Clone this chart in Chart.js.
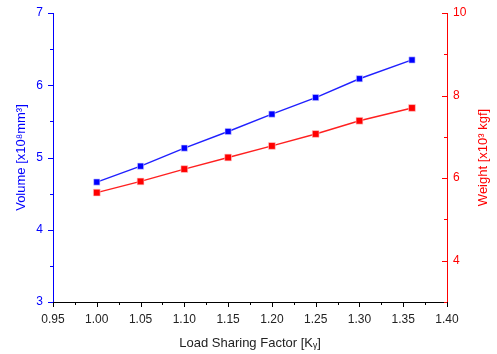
<!DOCTYPE html>
<html>
<head>
<meta charset="utf-8">
<script src="https://cdn.jsdelivr.net/npm/chart.js@4"></script>
<style>
  html, body { margin: 0; padding: 0; background: #fff; }
  #wrap { width: 497px; height: 354px; }
</style>
</head>
<body>
<div id="wrap"><canvas id="c" width="497" height="354"></canvas></div>
<script>
// values
const loadFactor = [1.00, 1.05, 1.10, 1.15, 1.20, 1.25, 1.30, 1.36]
const volume = [4.66, 4.88, 5.13, 5.36, 5.60, 5.83, 6.09, 6.35]
const weight = [5.65, 5.92, 6.22, 6.50, 6.78, 7.07, 7.39, 7.70]

const BLUE = "#0000ff"
const RED = "#ff0000"
const FONT = "'Liberation Sans', Arial, sans-serif"

// major + minor ticks drawn by hand, plus the right axis title (reads bottom to top)
const tickMarks = {
  id: "tickMarks",
  afterDraw(chart) {
    const ctx = chart.ctx
    const area = chart.chartArea
    const draw = (scale, color, x0, y0, dx, dy, vertical) => {
      const vals = scale.ticks.map(t => t.value)
      ctx.save()
      ctx.strokeStyle = color
      ctx.lineWidth = 1
      vals.forEach((v, i) => {
        const list = [[v, 5]]
        if (i < vals.length - 1) list.push([(v + vals[i + 1]) / 2, 3])
        if (i === 0 && scale.id === "y2") list.push([v - 1, 3])
        list.forEach(([val, len]) => {
          const p = Math.round(scale.getPixelForValue(val)) + 0.5
          ctx.beginPath()
          if (vertical) {
            ctx.moveTo(x0, p)
            ctx.lineTo(x0 + dx * len, p)
          } else {
            ctx.moveTo(p, y0)
            ctx.lineTo(p, y0 + dy * len)
          }
          ctx.stroke()
        })
      })
      ctx.restore()
    }
    draw(chart.scales.y, BLUE, area.left, 0, -1, 0, true)
    draw(chart.scales.y2, RED, area.right, 0, -1, 0, true)
    draw(chart.scales.x, "#000", 0, area.bottom, 0, 1, false)

    ctx.save()
    ctx.translate(483, (area.top + area.bottom) / 2)
    ctx.rotate(-Math.PI / 2)
    ctx.fillStyle = RED
    ctx.font = "13px " + FONT
    ctx.textAlign = "center"
    ctx.textBaseline = "middle"
    ctx.fillText("Weight [x10\u00B3 kgf]", 0, 0)
    ctx.restore()
  }
}

// fixed axis sizes so the plot area sits where the original one does
const fixV = w => s => { s.width = w; s.paddingTop = 0; s.paddingBottom = 0 }

new Chart(document.getElementById("c").getContext("2d"), {
  type: "line",
  data: {
    datasets: [
      {
        label: "Volume",
        data: loadFactor.map((x, i) => ({x: x, y: volume[i]})),
        borderColor: "#2020ff",
        backgroundColor: BLUE,
        borderWidth: 1.4,
        pointStyle: "rect",
        pointRadius: 4.4,
        pointBorderColor: "#d8d8ff",
        pointBorderWidth: 0.6,
        yAxisID: "y"
      },
      {
        label: "Weight",
        data: loadFactor.map((x, i) => ({x: x, y: weight[i]})),
        borderColor: "#ff2020",
        backgroundColor: RED,
        borderWidth: 1.4,
        pointStyle: "rect",
        pointRadius: 4.8,
        pointBorderColor: "#ffd0d0",
        pointBorderWidth: 0.6,
        yAxisID: "y2"
      }
    ]
  },
  options: {
    responsive: false,
    animation: false,
    layout: {padding: {top: 13, left: 0, right: 0, bottom: 0}},
    plugins: {legend: {display: false}, tooltip: {enabled: false}},
    scales: {
      x: {
        type: "linear",
        min: 0.95,
        max: 1.40,
        grid: {display: false, drawTicks: false},
        border: {display: true, color: "#000", width: 1},
        ticks: {
          stepSize: 0.05,
          color: "#222",
          font: {family: FONT, size: 12},
          padding: 10,
          callback: v => v.toFixed(2)
        },
        title: {
          display: true,
          text: "Load Sharing Factor [K\u1D67]",
          color: "#222",
          font: {family: FONT, size: 13},
          padding: {top: 6, bottom: 3}
        },
        afterFit: s => { s.height = 52; s.paddingLeft = 0; s.paddingRight = 0 }
      },
      y: {
        position: "left",
        min: 3,
        max: 7,
        grid: {display: false, drawTicks: false},
        border: {display: true, color: BLUE, width: 1},
        ticks: {
          stepSize: 1,
          color: BLUE,
          font: {family: FONT, size: 12},
          padding: 10
        },
        title: {
          display: true,
          text: "Volume [x10\u2078mm\u00B3]",
          color: BLUE,
          font: {family: FONT, size: 13},
          padding: {top: 14, bottom: 0}
        },
        afterFit: fixV(53)
      },
      y2: {
        position: "right",
        min: 3,
        max: 10,
        grid: {display: false, drawTicks: false},
        border: {display: true, color: RED, width: 1},
        ticks: {
          color: RED,
          font: {family: FONT, size: 12},
          padding: 6
        },
        afterBuildTicks: s => {
          s.ticks = [4, 6, 8, 10].map(v => ({value: v}))
        },
        title: {display: false},
        afterFit: fixV(50)
      }
    }
  },
  plugins: [tickMarks]
})
</script>
</body>
</html>
